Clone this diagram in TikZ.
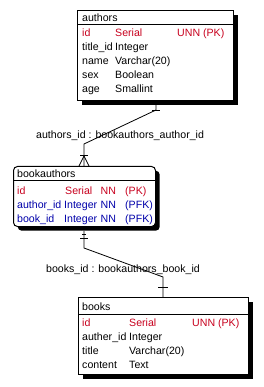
\documentclass[tikz,border=0pt]{standalone}
\usepackage{fontspec}
\setmainfont{Liberation Sans}
\usetikzlibrary{calc}
\definecolor{pkred}{RGB}{200,0,30}
\definecolor{fkblue}{RGB}{0,0,170}
\begin{document}
\begin{tikzpicture}[x=1pt,y=-1pt,
 tbl/.style={draw=black, line width=1pt, fill=white, inner sep=0pt, anchor=north west},
 shadowbox/.style={fill=black, inner sep=0pt, anchor=north west},
 txt/.style={anchor=base west, inner sep=0pt, font=\fontsize{10.6}{12}\selectfont},
 pk/.style={txt, text=pkred},
 fk/.style={txt, text=fkblue},
 conn/.style={draw=black, line width=0.8pt},
 sep/.style={draw=black, line width=1pt}]
\useasboundingbox[fill=white] (0,0) rectangle (263,387);

\coordinate (a1) at (156,110);
\coordinate (a2) at (84,144);
\coordinate (b1) at (84,248);
\coordinate (b2) at (163,277);

% ---------- authors
\node[shadowbox, minimum width=156pt, minimum height=90pt] (authorsshadow) at (81.5,14.5) {};
\node[tbl, minimum width=156pt, minimum height=90pt] (authors) at (77,10) {};
\draw[sep] ($(authors.north west)+(0,15)$) -- ($(authors.north east)+(0,15)$);
\node[txt] (authorsT) at (82,22) {authors};
\node[pk] (aid) at (82,37) {id};
\node[pk] (aidT) at (115,37) {Serial};
\node[pk] (aidK) at (177,37) {UNN (PK)};
\node[txt] (atitle) at (82,51) {title\_id};
\node[txt] (atitleT) at (115,51) {Integer};
\node[txt] (aname) at (82,65) {name};
\node[txt] (anameT) at (115,65) {Varchar(20)};
\node[txt] (asex) at (82,79) {sex};
\node[txt] (asexT) at (115,79) {Boolean};
\node[txt] (aage) at (82,93) {age};
\node[txt] (aageT) at (115,93) {Smallint};

% ---------- bookauthors
\node[shadowbox, rounded corners=4pt, minimum width=142pt, minimum height=60pt] (bashadow) at (17.5,170.5) {};
\node[tbl, rounded corners=4pt, minimum width=142pt, minimum height=60pt] (bookauthors) at (13,166) {};
\draw[sep] ($(bookauthors.north west)+(0,14)$) -- ($(bookauthors.north east)+(0,14)$);
\node[txt] (baT) at (17,177) {bookauthors};
\node[pk] (baid) at (17,194) {id};
\node[pk] (baidT) at (65,194) {Serial};
\node[pk] (baidN) at (100.5,194) {NN};
\node[pk] (baidK) at (125,194) {(PK)};
\node[fk] (baau) at (17,208) {author\_id};
\node[fk] (baauT) at (64,208) {Integer};
\node[fk] (baauN) at (100.5,208) {NN};
\node[fk] (baauK) at (125,208) {(PFK)};
\node[fk] (babk) at (17,222) {book\_id};
\node[fk] (babkT) at (64,222) {Integer};
\node[fk] (babkN) at (100.5,222) {NN};
\node[fk] (babkK) at (125,222) {(PFK)};

% ---------- books
\node[shadowbox, minimum width=170pt, minimum height=77pt] (booksshadow) at (82.5,301.5) {};
\node[tbl, minimum width=170pt, minimum height=77pt] (books) at (78,297) {};
\draw[sep] ($(books.north west)+(0,17)$) -- ($(books.north east)+(0,17)$);
\node[txt] (bT) at (82,310) {books};
\node[pk] (bid) at (82,326) {id};
\node[pk] (bidT) at (129,326) {Serial};
\node[pk] (bidK) at (192,326) {UNN (PK)};
\node[txt] (bau) at (82,340) {auther\_id};
\node[txt] (bauT) at (129,340) {Integer};
\node[txt] (bti) at (82,354) {title};
\node[txt] (btiT) at (129,354) {Varchar(20)};
\node[txt] (bco) at (82,368) {content};
\node[txt] (bcoT) at (129,368) {Text};

% ---------- relation 1
\draw[conn] (authorsshadow.south -| a1) -- (a1) -- (a2) -- (bookauthors.north -| a2);
\draw[conn] ($(a1)+(-4,0)$) -- ($(a1)+(4,0)$);
\draw[conn] (80,155) -- (88,155);
\draw[conn] (84,156) -- (79,166);
\draw[conn] (84,156) -- (89,166);
\node[txt] (lab1) at (36,139) {authors\_id : bookauthors\_author\_id};

% ---------- relation 2
\draw[conn] (bashadow.south -| b1) -- (b1) -- (b2) -- (books.north -| b2);
\draw[conn] (82,234) -- (86,234);
\draw[conn] (80,238) -- (88,238);
\draw[conn] (158,287) -- (168,287);
\node[txt] (lab2) at (46,272) {books\_id : bookauthors\_book\_id};
\end{tikzpicture}
\end{document}
